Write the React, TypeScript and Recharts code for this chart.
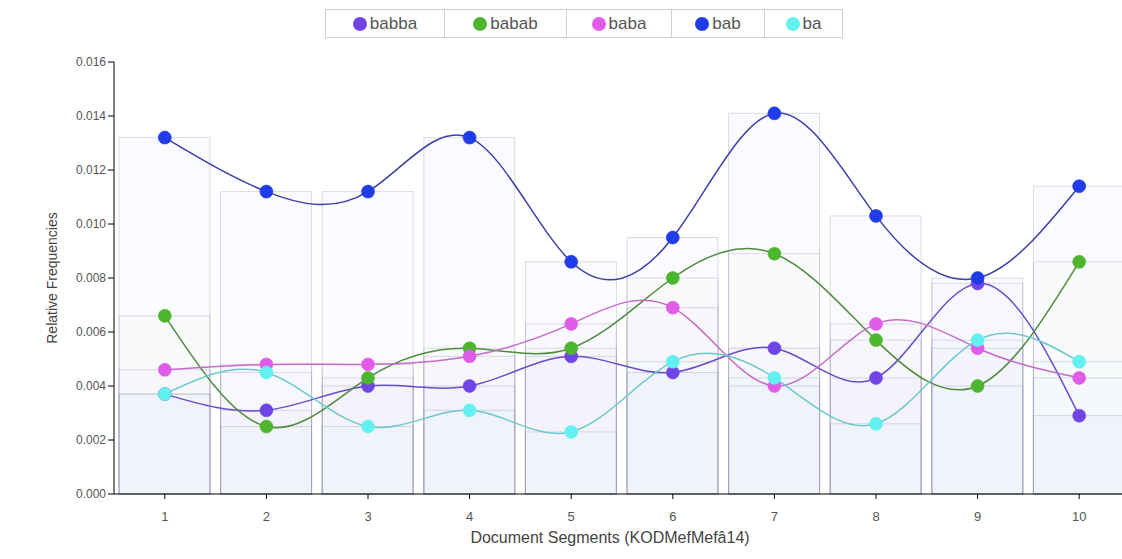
import React from "react";
import { ComposedChart, Bar, Line, XAxis, YAxis } from "recharts";

const categories = ["1", "2", "3", "4", "5", "6", "7", "8", "9", "10"];
const babba = [0.0037, 0.0031, 0.004, 0.004, 0.0051, 0.0045, 0.0054, 0.0043, 0.0078, 0.0029];
const babab = [0.0066, 0.0025, 0.0043, 0.0054, 0.0054, 0.008, 0.0089, 0.0057, 0.004, 0.0086];
const baba = [0.0046, 0.0048, 0.0048, 0.0051, 0.0063, 0.0069, 0.004, 0.0063, 0.0054, 0.0043];
const bab = [0.0132, 0.0112, 0.0112, 0.0132, 0.0086, 0.0095, 0.0141, 0.0103, 0.008, 0.0114];
const ba = [0.0037, 0.0045, 0.0025, 0.0031, 0.0023, 0.0049, 0.0043, 0.0026, 0.0057, 0.0049];
const yTicks = [0, 0.002, 0.004, 0.006, 0.008, 0.01, 0.012, 0.014, 0.016];

const series = [
  { key: "babba", values: babba, dot: "#7045e6", line: "#6a4cc8", width: 119 },
  { key: "babab", values: babab, dot: "#4db52e", line: "#4f8c3e", width: 122 },
  { key: "baba", values: baba, dot: "#e05ce8", line: "#c46ac8", width: 105 },
  { key: "bab", values: bab, dot: "#1f3ce6", line: "#3d3fa8", width: 93 },
  { key: "ba", values: ba, dot: "#62f0f0", line: "#6cc8cc", width: 78 },
];

const data = categories.map((c, i) => {
  const row: Record<string, string | number> = { seg: c };
  series.forEach((s) => (row[s.key] = s.values[i]));
  return row;
});

const font = "'Liberation Sans', Arial, sans-serif";

function LegendBox() {
  return (
    <div
      style={{
        position: "absolute",
        top: 9,
        left: 325,
        display: "flex",
        border: "1px solid #d0d0d0",
        height: 27,
        fontFamily: font,
        fontSize: 17,
        color: "#555",
        background: "#fff",
      }}
    >
      {series.map((s, i) => (
        <div
          key={s.key}
          style={{
            width: s.width - 1,
            display: "flex",
            alignItems: "center",
            justifyContent: "center",
            borderLeft: i ? "1px solid #d0d0d0" : "none",
          }}
        >
          <span
            style={{
              display: "inline-block",
              width: 14,
              height: 14,
              borderRadius: 7,
              background: s.dot,
              marginRight: 3,
            }}
          />
          {s.key}
        </div>
      ))}
    </div>
  );
}

export default function App() {
  return (
    <div style={{ position: "absolute", left: 0, top: 0, width: 1122, height: 559, overflow: "hidden", background: "#fff" }}>
      <ComposedChart
        width={1130}
        height={559}
        data={data}
        margin={{ top: 62, right: 0, bottom: 0, left: 0 }}
        barGap={-91}
        barSize={91}
      >
        <XAxis
          dataKey="seg"
          height={65}
          stroke="#000"
          tickLine={{ stroke: "#000" }}
          tickSize={5}
          tick={{ fill: "#555", fontSize: 13, fontFamily: font, dy: 11 }}
          label={{
            value: "Document Segments (KODMefMefâ14)",
            position: "insideBottom",
            offset: 16,
            dx: -12,
            style: { fill: "#444", fontSize: 16, fontFamily: font },
          }}
        />
        <YAxis
          width={114}
          domain={[0, 0.016]}
          ticks={yTicks}
          stroke="#000"
          tickSize={6}
          tickFormatter={(v: number) => v.toFixed(3)}
          tick={{ fill: "#555", fontSize: 12, fontFamily: font }}
          label={{
            value: "Relative Frequencies",
            angle: -90,
            position: "insideLeft",
            offset: 52,
            style: { fill: "#444", fontSize: 14, fontFamily: font, textAnchor: "middle" },
          }}
        />
        {series.map((s) => (
          <Bar
            key={"bar-" + s.key}
            dataKey={s.key}
            fill={s.dot}
            fillOpacity={0.02}
            stroke="#8a90b0"
            strokeOpacity={0.3}
            legendType="none"
            isAnimationActive={false}
          />
        ))}
        {series.map((s) => (
          <Line
            key={"line-" + s.key}
            dataKey={s.key}
            type="natural"
            stroke={s.line}
            strokeWidth={1.5}
            dot={{ r: 6.5, fill: s.dot, stroke: s.dot, strokeOpacity: 0.6, strokeWidth: 1, fillOpacity: 1 }}
            activeDot={false}
            isAnimationActive={false}
          />
        ))}
      </ComposedChart>
      <LegendBox />
    </div>
  );
}
